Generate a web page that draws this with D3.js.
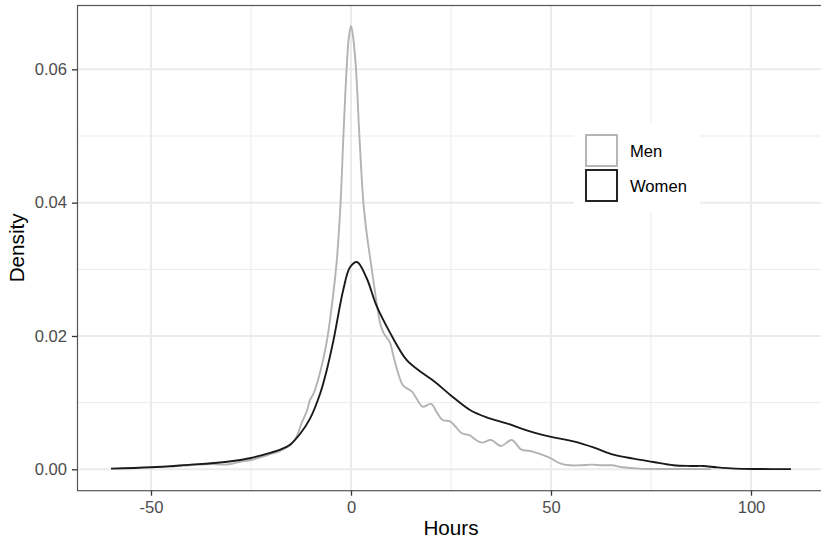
<!DOCTYPE html>
<html><head><meta charset="utf-8">
<script src="https://cdn.jsdelivr.net/npm/d3@7"></script>
<style>html,body{margin:0;padding:0;background:#fff;} svg{display:block;font-family:"Liberation Sans",Arial,Helvetica,sans-serif;}</style>
</head><body>
<svg id="chart" width="821" height="541"></svg>
<script>
const menHours   = [-45,-40,-35,-32,-30,-28,-25,-22,-20,-18,-15,-13.6,-12.3,-11,-10.25,-9.4,-7.75,-6.1,-4.8,-3.6,-2.6,-1.9,-1.1,-0.5,0,0.5,1.25,2.1,3.1,3.9,5.2,6.4,7.25,8.1,9.75,10.6,12,13.1,15.2,16.5,17.9,20,21.5,22.9,24.75,26,27.7,29.75,31,32.7,35,37.5,40.2,42.5,45.2,47.7,49.75,52.25,54.75,57.25,60.2,62.7,65.2,68,72,80,90];
const menDensity = [0.0004,0.0006,0.0008,0.0007,0.0008,0.0011,0.0014,0.0019,0.0023,0.0027,0.0037,0.0049,0.007,0.0088,0.0104,0.0113,0.0145,0.019,0.0245,0.031,0.040,0.050,0.060,0.065,0.0665,0.065,0.060,0.050,0.040,0.0355,0.030,0.025,0.022,0.0205,0.019,0.017,0.014,0.0125,0.0117,0.0105,0.0094,0.0098,0.0085,0.0074,0.0072,0.0065,0.0054,0.0051,0.0045,0.004,0.0044,0.0035,0.0044,0.003,0.0027,0.0022,0.0017,0.0009,0.0006,0.0006,0.0007,0.0006,0.0006,0.0003,0.0001,0.00005,0.00002];
const womenHours   = [-60,-50,-40,-35,-30,-25,-20,-17.5,-15.25,-12.75,-10.25,-7.75,-6.1,-4.4,-1.9,-0.25,1.5,3.9,6.4,9.75,13.9,17.25,21,24.75,29.75,33.9,38.9,44.75,50.6,55.6,60.6,65.6,70.6,75.6,80.6,85,88.1,91.4,96,102,110];
const womenDensity = [0.0001,0.0003,0.0007,0.0009,0.0012,0.0017,0.0025,0.003,0.0037,0.0053,0.0076,0.0113,0.0148,0.0193,0.027,0.0303,0.0311,0.0287,0.0245,0.0205,0.0164,0.0147,0.0131,0.0112,0.0089,0.0078,0.0069,0.0057,0.0048,0.0042,0.0033,0.0022,0.0016,0.0011,0.0006,0.0005,0.0005,0.0003,0.0001,0.00004,0.00003];
const xTicks = [-50,0,50,100];
const xMinor = [-25,25,75];
const yTicks = [0,0.02,0.04,0.06];
const yMinor = [0.01,0.03,0.05];
const yTickLabels = ["0.00","0.02","0.04","0.06"];
const seriesNames = ["Men","Women"];
const seriesColors = ["#b3b3b3","#1a1a1a"];

const svg = d3.select("#chart");
const L = 77, T = 5, R = 825, B = 490.7;
const x = d3.scaleLinear().domain([-68.5,118.5]).range([L,R]);
const y = d3.scaleLinear().domain([-0.00321,0.06965]).range([B,T]);

svg.append("defs").append("clipPath").attr("id","clip").append("rect")
  .attr("x",L).attr("y",T).attr("width",R-L).attr("height",B-T);

const grid = svg.append("g");
grid.selectAll(".xm").data(xMinor).enter().append("line")
  .attr("x1",d=>x(d)).attr("x2",d=>x(d)).attr("y1",T).attr("y2",B)
  .attr("stroke","#ebebeb").attr("stroke-width",1);
grid.selectAll(".ym").data(yMinor).enter().append("line")
  .attr("y1",d=>y(d)).attr("y2",d=>y(d)).attr("x1",L).attr("x2",R)
  .attr("stroke","#ebebeb").attr("stroke-width",1);
grid.selectAll(".xM").data(xTicks).enter().append("line")
  .attr("x1",d=>x(d)).attr("x2",d=>x(d)).attr("y1",T).attr("y2",B)
  .attr("stroke","#ebebeb").attr("stroke-width",2);
grid.selectAll(".yM").data(yTicks).enter().append("line")
  .attr("y1",d=>y(d)).attr("y2",d=>y(d)).attr("x1",L).attr("x2",R)
  .attr("stroke","#ebebeb").attr("stroke-width",2);

const line = d3.line().x(d=>x(d[0])).y(d=>y(d[1])).curve(d3.curveCatmullRom.alpha(0.5));
const series = [
  d3.zip(menHours, menDensity),
  d3.zip(womenHours, womenDensity)
];
const lines = svg.append("g").attr("clip-path","url(#clip)");
series.forEach((s,i)=>{
  lines.append("path").datum(s).attr("d",line)
    .attr("fill","none").attr("stroke",seriesColors[i]).attr("stroke-width",1.9)
    .attr("stroke-linejoin","round");
});

// panel border
svg.append("rect").attr("x",L+0.5).attr("y",T+0.5).attr("width",R-L).attr("height",B-T-0.5)
  .attr("fill","none").attr("stroke","#555").attr("stroke-width",1.2);

// axes
const xAxis = d3.axisBottom(x).tickValues(xTicks).tickSize(5).tickPadding(6).tickFormat(d3.format("d"));
const gx = svg.append("g").attr("transform",`translate(0,${B})`).call(xAxis);
gx.select(".domain").remove();
gx.selectAll("line").attr("stroke","#333").attr("stroke-width",1.3);
gx.selectAll("text").attr("fill","#4d4d4d").attr("font-size","16.6px")
  .attr("font-family","Liberation Sans, Arial, sans-serif").text(d=>d<0?"-"+Math.abs(d):d);

const yAxis = d3.axisLeft(y).tickValues(yTicks).tickSize(5).tickPadding(5).tickFormat((d,i)=>yTickLabels[i]);
const gy = svg.append("g").attr("transform",`translate(${L},0)`).call(yAxis);
gy.select(".domain").remove();
gy.selectAll("line").attr("stroke","#333").attr("stroke-width",1.3);
gy.selectAll("text").attr("fill","#4d4d4d").attr("font-size","16.6px")
  .attr("font-family","Liberation Sans, Arial, sans-serif");

// axis titles
svg.append("text").attr("x",(L+R)/2).attr("y",535).attr("text-anchor","middle")
  .attr("font-size","20.7px").attr("fill","#000").text("Hours");
svg.append("text").attr("transform",`translate(24,${(T+B)/2}) rotate(-90)`).attr("text-anchor","middle")
  .attr("font-size","20.7px").attr("fill","#000").text("Density");

// legend
const lg = svg.append("g");
lg.append("rect").attr("x",574).attr("y",123).attr("width",126).attr("height",89).attr("fill","#fff");
seriesNames.forEach((n,i)=>{
  const ky = 134 + i*35;
  lg.append("rect").attr("x",586).attr("y",ky+1).attr("width",31).attr("height",31)
    .attr("fill","#fff").attr("stroke",seriesColors[i]).attr("stroke-width",1.9);
  lg.append("text").attr("x",630).attr("y",ky+17).attr("dominant-baseline","central")
    .attr("font-size","16.6px").attr("fill","#000").text(n);
});
</script>
</body></html>
